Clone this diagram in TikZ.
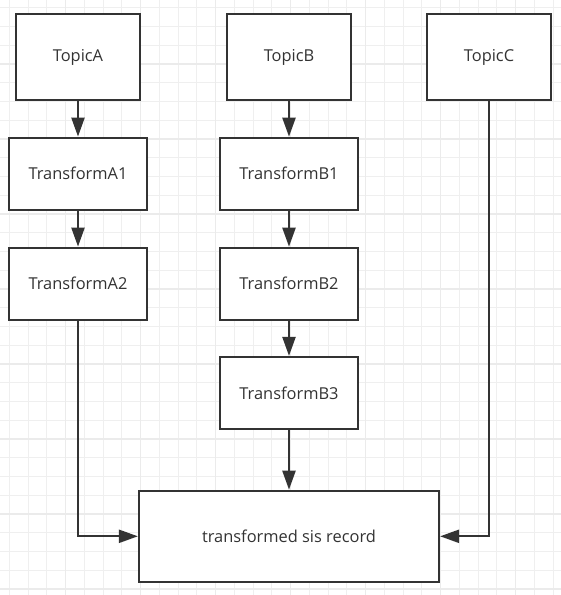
\documentclass[tikz,border=0pt]{standalone}
\usepackage{fontspec}
\setmainfont{Open Sans}
\usepackage{tikz}
\usetikzlibrary{arrows.meta}
\definecolor{ln}{RGB}{51, 51, 51}
\definecolor{gr}{RGB}{239, 239, 239}
\definecolor{grm}{RGB}{235, 235, 235}

\begin{document}
\begin{tikzpicture}
			[x=1pt, y=-1pt, every node/.style={inner sep=0pt, font=\fontsize{16.4}{19}\selectfont, text=ln},
			topic/.style={rectangle, minimum width=124pt, minimum height=86pt, fill=white, line width=2.2pt, draw=ln},
			trans/.style={rectangle, minimum width=138pt, minimum height=72pt, fill=white, line width=2.2pt, draw=ln},
			link/.style={line width=2.2pt, color=ln, -{Triangle[length=19pt, width=13pt]}}]
			\useasboundingbox (0, 0) rectangle (561, 595);
			\fill [white] (0, 0) rectangle (561, 595);
			\foreach \k in {0,...,29} \draw [line width=1pt, color=gr] (9.45+18.75*\k, 0) -- (9.45+18.75*\k, 595);
			\foreach \k in {0,...,31} \draw [line width=1pt, color=gr] (0, 7.75+18.75*\k) -- (561, 7.75+18.75*\k);
			\foreach \k in {0,...,6} \draw [line width=1.2pt, color=grm] (65.7+75*\k, 0) -- (65.7+75*\k, 595);
			\foreach \k in {0,...,7} \draw [line width=1.2pt, color=grm] (0, 64+75*\k) -- (561, 64+75*\k);
			\node (1) [topic] at (78, 57) {TopicA};
			\node (2) [trans] at (78, 173.7) {TransformA1};
			\node (3) [trans] at (78, 283.7) {TransformA2};
			\node (4) [topic] at (289, 57) {TopicB};
			\node (5) [trans] at (289, 173.8) {TransformB1};
			\node (6) [trans] at (289, 283.8) {TransformB2};
			\node (7) [trans] at (289, 393) {TransformB3};
			\node (8) [topic] at (489, 57) {TopicC};
			\node (9) [rectangle, minimum width=300pt, minimum height=91pt, fill=white, line width=2.2pt, draw=ln] at (289, 536.3) {transformed sis record};
			\draw [link] (1) to (2);
			\draw [link] (2) to (3);
			\draw [link] (4) to (5);
			\draw [link] (5) to (6);
			\draw [link] (6) to (7);
			\draw [link] (7) to (9);
			\draw [link] (3) |- (9);
			\draw [link] (8) |- (9);
	\end{tikzpicture}
\end{document}
